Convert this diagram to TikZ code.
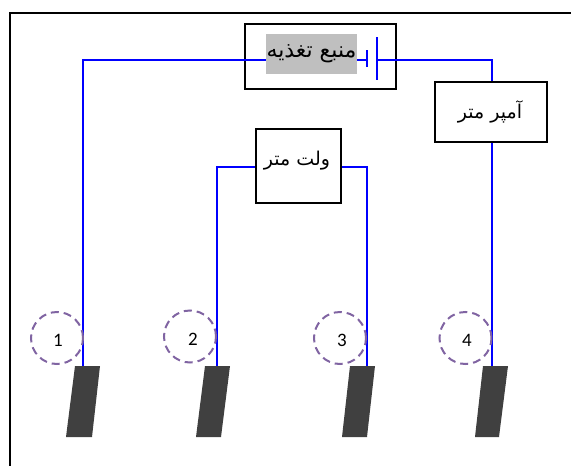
\documentclass[tikz,border=0pt]{standalone}
\usepackage{fontspec}
\setmainfont{Carlito}
\newfontfamily\arabicfont[Script=Arabic]{DejaVu Sans}
\TeXXeTstate=1
\definecolor{ringpurple}{HTML}{8064A2}
\tikzset{
	wire/.style={draw=blue, line width=1.7pt},
	devbox/.style={draw=black, line width=1.7pt, fill=white, inner sep=0pt},
	farsi/.style={font=\arabicfont\fontsize{19}{22}\selectfont, inner sep=0pt},
	probe/.style={fill=black!75, draw=none},
	ring/.style={draw=ringpurple, line width=2pt, dash pattern=on 8pt off 5pt, circle, minimum size=52pt, inner sep=0pt},
	digit/.style={font=\fontsize{19}{22}\selectfont, inner sep=0pt}
}
\begin{document}
\begin{tikzpicture}[x=1pt, y=-1pt]
	\useasboundingbox (0, 0) rectangle (571, 466);
	%frame
	\draw[line width=2pt] (9.5, 466)--(9.5, 12.5)--(571, 12.5);
	%boxes
	\node[devbox, minimum width=151pt, minimum height=65pt] (source) at (320.5, 56.5) {};
	\node[devbox, minimum width=112pt, minimum height=60pt] (ammeter) at (491, 112) {};
	\node[devbox, minimum width=85pt, minimum height=74pt] (voltmeter) at (298.5, 166) {};
	%corners
	\path (83, 60) coordinate (Sl);
	\path (492, 60) coordinate (Sr);
	\path (217, 167) coordinate (Vl);
	\path (367, 167) coordinate (Vr);
	%electrodes
	\path (83, 366) coordinate (P1);
	\path (217, 366) coordinate (P2);
	\path (367, 366) coordinate (P3);
	\path (492, 366) coordinate (P4);
	\fill[probe] (75, 366)--(100, 366)--(92, 437)--(66, 437)--cycle;
	\fill[probe] (205, 366)--(230, 366)--(221, 437)--(196, 437)--cycle;
	\fill[probe] (350, 366)--(375, 366)--(367, 437)--(342, 437)--cycle;
	\fill[probe] (483, 366)--(508, 366)--(499, 437)--(475, 437)--cycle;
	%battery plates
	\path (367, 50) coordinate (Bsa);
	\path (367, 67) coordinate (Bsb);
	\path (377, 37) coordinate (Bla);
	\path (377, 80) coordinate (Blb);
	\path (367, 60) coordinate (Bs);
	\path (377, 60) coordinate (Bl);
	%wires
	\draw[wire] (P1)--(Sl)--(Bs);
	\draw[wire] (Bl)--(Sr)--(ammeter.north -| Sr);
	\draw[wire] (ammeter.south -| P4)--(P4);
	\draw[wire] (P2)--(Vl)--(voltmeter.west |- Vl);
	\draw[wire] (P3)--(Vr)--(voltmeter.east |- Vr);
	\draw[wire] (Bsa)--(Bsb);
	\draw[wire] (Bla)--(Blb);
	%labels
	\node[fill=black!25, minimum width=91pt, minimum height=40pt, inner sep=0pt] (sourcebg) at (311.5, 54) {};
	\node[farsi, font=\arabicfont\fontsize{22}{26}\selectfont] (sourcetext) at (311.5, 54) {\beginR منبع تغذیه\endR};
	\node[farsi] (ammetertext) at (490, 112) {\beginR آمپر متر\endR};
	\node[farsi] (voltmetertext) at (297, 161) {\beginR ولت متر\endR};
	%rings
	\node[ring] (ring1) at (57, 338) {};
	\node[ring] (ring2) at (190, 336.5) {};
	\node[ring] (ring3) at (340, 338) {};
	\node[ring] (ring4) at (465.5, 338) {};
	\node[digit] (num1) at (58, 340) {1};
	\node[digit] (num2) at (193, 339) {2};
	\node[digit] (num3) at (342, 340) {3};
	\node[digit] (num4) at (467, 340) {4};
\end{tikzpicture}
\end{document}
